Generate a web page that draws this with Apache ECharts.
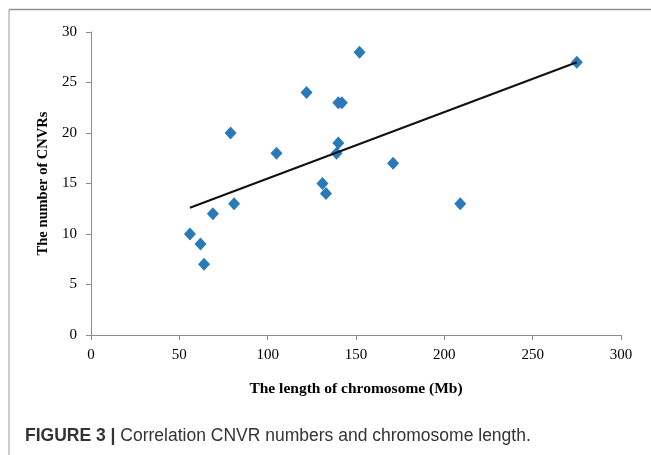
<!DOCTYPE html>
<html>
<head>
<meta charset="utf-8">
<script src="https://cdn.jsdelivr.net/npm/echarts@6/dist/echarts.min.js"></script>
<style>
  html, body { margin: 0; padding: 0; background: #fff; }
  #chart { width: 651px; height: 455px; }
</style>
</head>
<body>
<div id="chart"></div>
<script>
// chromosome length (Mb) and CNVR counts
const lengths = [56, 62, 64, 69, 79, 81, 105, 122, 131, 133, 140, 142, 140, 139, 152, 171, 209, 275];
const cnvrs = [10, 9, 7, 12, 20, 13, 18, 24, 15, 14, 23, 23, 19, 18, 28, 17, 13, 27];
// linear trend line end points
const trendX = [56, 275];
const trendY = [12.6, 27.0];
const xTicks = [0, 50, 100, 150, 200, 250, 300];
const yTicks = [0, 5, 10, 15, 20, 25, 30];

const points = lengths.map((v, i) => [v, cnvrs[i]]);
const trend = trendX.map((v, i) => [v, trendY[i]]);

const axisGray = "#8c8c8c";
const serif = "'Liberation Serif', 'Times New Roman', serif";
const sans = "'Liberation Sans', Arial, sans-serif";

const chart = echarts.init(document.getElementById("chart"));
chart.setOption({
  animation: false,
  grid: { left: 91, right: 30, top: 32, bottom: 120 },
  title: {
    left: 20,
    top: 422,
    text: "{b|FIGURE 3 |} Correlation CNVR numbers and chromosome length.",
    textStyle: {
      fontFamily: sans,
      fontSize: 17.5,
      fontWeight: "normal",
      color: "#333",
      rich: {
        b: { fontFamily: sans, fontSize: 17.5, fontWeight: "bold", color: "#333" },
      },
    },
  },
  graphic: [
    { type: "line", shape: { x1: 9, y1: 9.5, x2: 651, y2: 9.5 }, style: { stroke: "#8f8f8f", lineWidth: 1.5 } },
    { type: "line", shape: { x1: 9, y1: 9.5, x2: 9, y2: 455 }, style: { stroke: "#9a9a9a", lineWidth: 1 } },
  ],
  xAxis: {
    type: "value",
    min: xTicks[0],
    max: xTicks[xTicks.length - 1],
    interval: 50,
    name: "The length of chromosome (Mb)",
    nameLocation: "middle",
    nameGap: 46,
    nameTextStyle: { fontFamily: serif, fontSize: 15.5, fontWeight: "bold", color: "#000" },
    axisLine: { show: true, lineStyle: { color: axisGray, width: 1 } },
    axisTick: { show: true, length: 5, lineStyle: { color: axisGray } },
    axisLabel: { fontFamily: serif, fontSize: 15, color: "#000", margin: 13 },
    splitLine: { show: false },
  },
  yAxis: {
    type: "value",
    min: yTicks[0],
    max: yTicks[yTicks.length - 1],
    interval: 5,
    name: "The number of CNVRs",
    nameLocation: "middle",
    nameGap: 40,
    nameTextStyle: { fontFamily: serif, fontSize: 14.5, fontWeight: "bold", color: "#000" },
    axisLine: { show: true, lineStyle: { color: axisGray, width: 1 } },
    axisTick: { show: true, length: 5, lineStyle: { color: axisGray } },
    axisLabel: { fontFamily: serif, fontSize: 15, color: "#000", margin: 14 },
    splitLine: { show: false },
  },
  series: [
    {
      type: "scatter",
      data: points,
      symbol: "diamond",
      symbolSize: [12, 13],
      itemStyle: { color: "#2a7ab8", opacity: 1 },
      z: 2,
    },
    {
      type: "line",
      data: trend,
      symbol: "none",
      lineStyle: { color: "#111", width: 2 },
      z: 3,
    },
  ],
});
</script>
</body>
</html>
